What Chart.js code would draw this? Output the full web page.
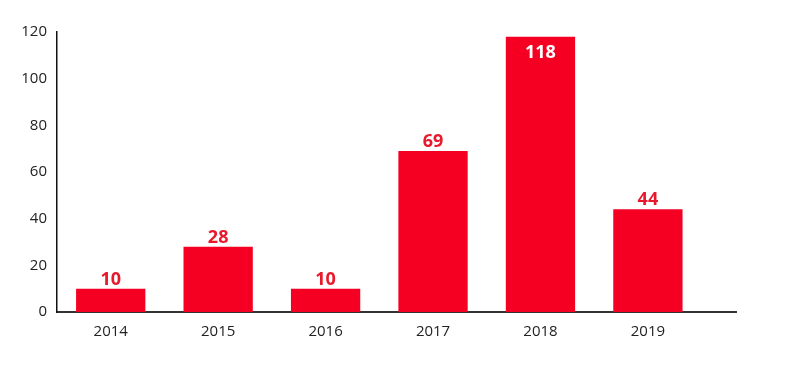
<!DOCTYPE html>
<html>
<head>
<meta charset="utf-8">
<script src="https://cdn.jsdelivr.net/npm/chart.js@4"></script>
<style>
  html, body { margin: 0; padding: 0; background: #fff; }
  #wrap { width: 800px; height: 384px; }
</style>
</head>
<body>
<div id="wrap"><canvas id="grafico"></canvas></div>
<script>
// Datos del gráfico
const anios = [2014, 2015, 2016, 2017, 2018, 2019];
const valores = [10, 28, 10, 69, 118, 44];
const ticksY = [0, 20, 40, 60, 80, 100, 120];

const rojo = '#f50022';

// Etiquetas sobre las barras (la más alta va dentro en blanco)
const etiquetasBarras = {
    id: 'etiquetasBarras',
    afterDatasetsDraw(chart) {
        const ctx = chart.ctx;
        const meta = chart.getDatasetMeta(0);
        ctx.save();
        ctx.font = 'bold 18px "Open Sans", sans-serif';
        ctx.textAlign = 'center';
        ctx.textBaseline = 'alphabetic';
        meta.data.forEach((bar, i) => {
            const v = valores[i];
            if (v > 100) {
                ctx.fillStyle = '#ffffff';
                ctx.fillText(String(v), bar.x, bar.y + 21);
            } else {
                ctx.fillStyle = '#e8192c';
                ctx.fillText(String(v), bar.x, bar.y - 4);
            }
        });
        ctx.restore();
    }
};

new Chart(document.getElementById('grafico'), {
    type: 'bar',
    data: {
        datasets: [{
            data: anios.map((a, i) => ({ x: a, y: valores[i] })),
            backgroundColor: rojo,
            borderWidth: 0,
            barPercentage: 0.645,
            categoryPercentage: 1
        }]
    },
    options: {
        responsive: true,
        maintainAspectRatio: false,
        animation: false,
        layout: { padding: { top: 32, right: 64, bottom: 32, left: 0 } },
        plugins: {
            legend: { display: false },
            tooltip: { enabled: false }
        },
        scales: {
            x: {
                type: 'linear',
                offset: false,
                bounds: 'ticks',
                min: 2013.5,
                max: 2019.82,
                afterFit: s => { s.height = 40; },
                afterBuildTicks: s => { s.ticks = anios.map(a => ({ value: a })); },
                grid: { display: false, drawTicks: false, offset: false },
                border: { color: '#333333', width: 2 },
                ticks: {
                    color: '#222222',
                    padding: 11,
                    font: { family: '"Open Sans", sans-serif', size: 15 },
                    callback: v => String(v)
                }
            },
            y: {
                min: 0,
                max: 120,
                afterFit: s => { s.width = 57; },
                afterBuildTicks: s => { s.ticks = ticksY.map(t => ({ value: t })); },
                grid: { display: false, drawTicks: false },
                border: { color: '#111111', width: 1.5 },
                ticks: {
                    color: '#222222',
                    padding: 10,
                    font: { family: '"Open Sans", sans-serif', size: 15 }
                }
            }
        }
    },
    plugins: [etiquetasBarras]
});
</script>
</body>
</html>
